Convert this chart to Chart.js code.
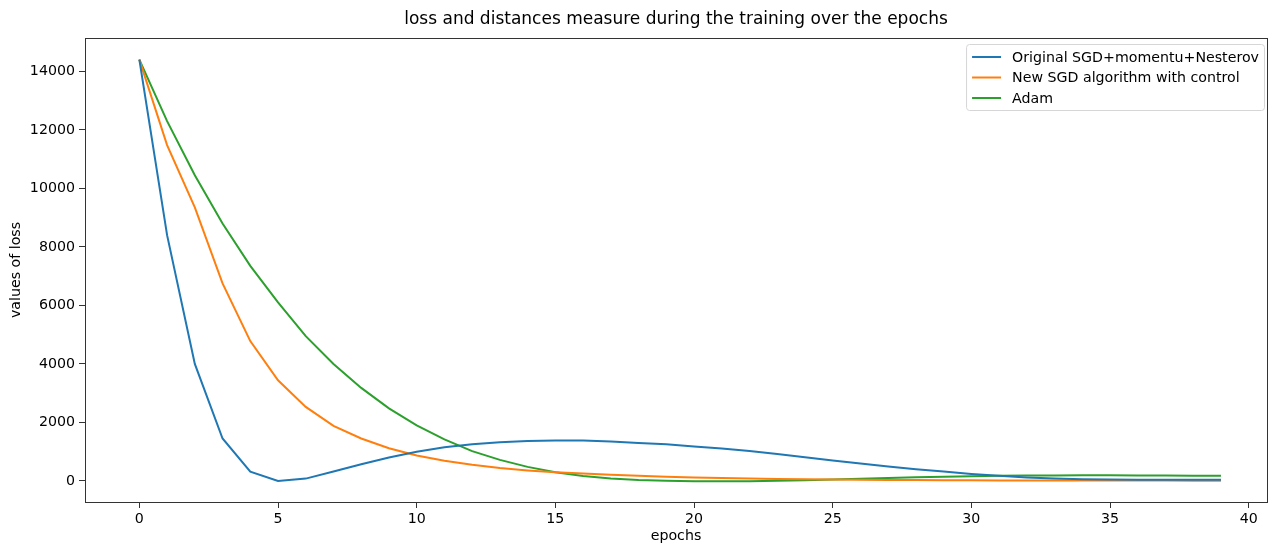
<!DOCTYPE html>
<html>
<head>
<meta charset="utf-8">
<script src="https://cdn.jsdelivr.net/npm/chart.js@4.4.1/dist/chart.umd.min.js"></script>
<style>
  html, body { margin: 0; padding: 0; background: #fff; }
  #wrap { width: 1279px; height: 545px; }
</style>
</head>
<body>
<div id="wrap"><canvas id="grafico" width="1279" height="545"></canvas></div>
<script>
// -------------------------
// Dados
// -------------------------
const epochs = [0, 1, 2, 3, 4, 5, 6, 7, 8, 9, 10, 11, 12, 13, 14, 15, 16, 17, 18, 19,
  20, 21, 22, 23, 24, 25, 26, 27, 28, 29, 30, 31, 32, 33, 34, 35, 36, 37, 38, 39];

const sgdNesterov = [14400, 8400, 4000, 1450, 320, 0, 80, 320, 570, 800,
  1000, 1150, 1250, 1320, 1365, 1385, 1380, 1350, 1300, 1250,
  1180, 1110, 1020, 920, 810, 700, 600, 490, 400, 320,
  240, 175, 120, 85, 60, 45, 40, 40, 40, 40];

const sgdControl = [14400, 11480, 9350, 6750, 4780, 3440, 2530, 1880, 1450, 1120,
  870, 690, 550, 440, 360, 300, 250, 210, 175, 145,
  120, 100, 85, 70, 60, 50, 42, 36, 30, 26,
  22, 19, 17, 15, 14, 13, 12, 11, 10, 10];

const adam = [14400, 12300, 10450, 8800, 7350, 6100, 4950, 4000, 3180, 2480,
  1900, 1420, 1020, 720, 480, 300, 170, 80, 30, 5,
  -10, -15, -10, 5, 25, 50, 75, 100, 125, 145,
  160, 175, 185, 190, 195, 195, 190, 185, 180, 175];

const seriesLabels = ["Original SGD+momentu+Nesterov", "New SGD algorithm with control", "Adam"];
const seriesColors = ["#1f77b4", "#ff7f0e", "#2ca02c"];

const xTicks = [0, 5, 10, 15, 20, 25, 30, 35, 40];
const yTicks = [0, 2000, 4000, 6000, 8000, 10000, 12000, 14000];

const titulo = "loss and distances measure during the training over the epochs";

const FONTE = "'DejaVu Sans', sans-serif";
const TAM = 14.2;

function pontos(valores) {
  return valores.map((v, i) => ({ x: epochs[i], y: v }));
}

// -------------------------
// Título, moldura e legenda (estilo matplotlib)
// -------------------------
const molduraPlugin = {
  id: "moldura",
  afterDraw(chart) {
    const { ctx, chartArea } = chart;
    ctx.save();

    // título centrado sobre os eixos
    ctx.font = "17px " + FONTE;
    ctx.fillStyle = "#000";
    ctx.textAlign = "center";
    ctx.textBaseline = "middle";
    ctx.fillText(titulo, (chartArea.left + chartArea.right) / 2, 20);

    ctx.strokeStyle = "#333";
    ctx.lineWidth = 1;
    ctx.strokeRect(Math.round(chartArea.left) + 0.5, Math.round(chartArea.top) + 0.5,
      Math.round(chartArea.right - chartArea.left), Math.round(chartArea.bottom - chartArea.top));

    // legenda
    ctx.font = TAM + "px " + FONTE;
    const textos = chart.data.datasets.map(d => d.label);
    const larg = Math.max(...textos.map(t => ctx.measureText(t).width));
    const right = chartArea.right - 3;
    const top = chartArea.top + 6;
    const left = right - (6 + 29 + 11 + larg + 5);
    const bottom = top + 66;

    ctx.beginPath();
    if (ctx.roundRect) ctx.roundRect(left + 0.5, top + 0.5, right - left, bottom - top, 3);
    else ctx.rect(left + 0.5, top + 0.5, right - left, bottom - top);
    ctx.fillStyle = "rgba(255,255,255,0.8)";
    ctx.fill();
    ctx.strokeStyle = "#d6d6d6";
    ctx.stroke();

    chart.data.datasets.forEach((d, i) => {
      const y = top + 13 + i * 20.5;
      ctx.strokeStyle = d.borderColor;
      ctx.lineWidth = 2;
      ctx.beginPath();
      ctx.moveTo(left + 6, y);
      ctx.lineTo(left + 35, y);
      ctx.stroke();
      ctx.fillStyle = "#000";
      ctx.textBaseline = "middle";
      ctx.textAlign = "left";
      ctx.fillText(d.label, left + 46, y + 1);
    });
    ctx.restore();
  }
};

// -------------------------
// Gráfico
// -------------------------
const ctx = document.getElementById("grafico").getContext("2d");

new Chart(ctx, {
  type: "line",
  data: {
    datasets: [sgdNesterov, sgdControl, adam].map((serie, i) => ({
      label: seriesLabels[i],
      data: pontos(serie),
      borderColor: seriesColors[i],
      backgroundColor: seriesColors[i],
      borderWidth: 2,
      pointRadius: 0,
      tension: 0,
      fill: false
    }))
  },
  options: {
    responsive: false,
    animation: false,
    layout: { padding: { left: 0, right: 12, top: 38, bottom: 0 } },
    plugins: {
      legend: { display: false },
      tooltip: { enabled: false },
      title: { display: false }
    },
    scales: {
      x: {
        type: "linear",
        min: -1.96,
        max: 40.66,
        afterBuildTicks: axis => { axis.ticks = xTicks.map(v => ({ value: v })); },
        afterFit: axis => { axis.height = 43; },
        grid: { drawOnChartArea: false, drawTicks: true, tickLength: 6, color: "#333", tickWidth: 1 },
        border: { display: true, color: "#333", width: 1 },
        ticks: {
          autoSkip: false,
          maxRotation: 0,
          padding: 3,
          color: "#000",
          font: { family: FONTE, size: TAM }
        },
        title: {
          display: true,
          text: "epochs",
          color: "#000",
          font: { family: FONTE, size: TAM },
          padding: { top: 0, bottom: 0 }
        }
      },
      y: {
        type: "linear",
        min: -720,
        max: 15140,
        afterBuildTicks: axis => { axis.ticks = yTicks.map(v => ({ value: v })); },
        afterFit: axis => { axis.width = 85; },
        grid: { drawOnChartArea: false, drawTicks: true, tickLength: 6, color: "#333", tickWidth: 1 },
        border: { display: true, color: "#333", width: 1 },
        ticks: {
          padding: 4,
          color: "#000",
          font: { family: FONTE, size: TAM },
          callback: v => String(v)
        },
        title: {
          display: true,
          text: "values of loss",
          color: "#000",
          font: { family: FONTE, size: TAM },
          padding: { top: 8, bottom: 0 }
        }
      }
    }
  },
  plugins: [molduraPlugin]
});
</script>
</body>
</html>
